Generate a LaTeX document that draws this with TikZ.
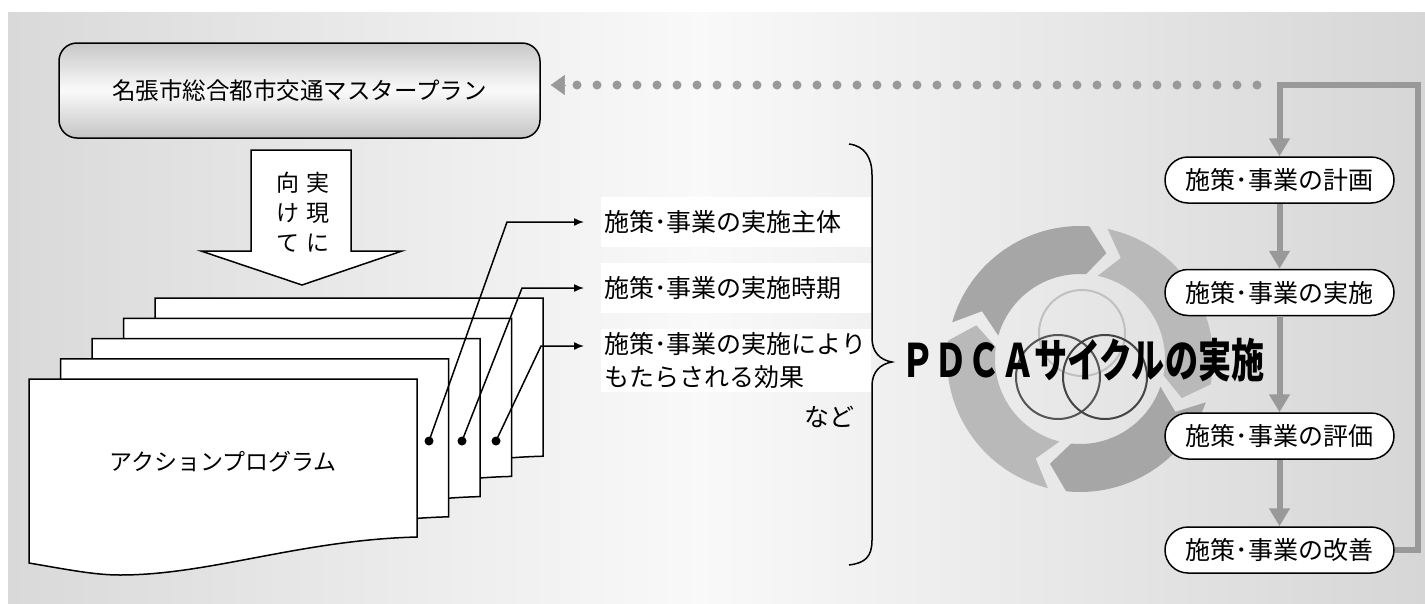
\documentclass[tikz,border=0pt]{standalone}
\usepackage{fontspec}
\newfontfamily\jp{Noto Sans CJK JP}
\usetikzlibrary{arrows.meta,calc}
\definecolor{lk}{HTML}{999999}
\definecolor{bgL}{HTML}{D9D9D9}
\definecolor{bgM}{HTML}{F9F9F9}
\definecolor{bgR}{HTML}{D6D6D6}
\definecolor{rdk}{HTML}{A6A6A6}
\definecolor{rlt}{HTML}{B9B9B9}
\definecolor{boxT}{HTML}{C8C8C8}
\definecolor{boxM}{HTML}{FAFAFA}
\definecolor{boxB}{HTML}{C4C4C4}
\definecolor{cTop}{HTML}{C0C0C0}
\definecolor{cLeft}{HTML}{555555}
\definecolor{cRight}{HTML}{444444}
\newcommand\pdcatxt{\scalebox{0.72}[1]{\jp\bfseries\fontsize{46}{50}\selectfont ＰＤＣＡサイクルの実施}}
\begin{document}
\begin{tikzpicture}[x=1pt,y=-1pt,
  every node/.style={font=\jp},
  mainbox/.style={draw, line width=1.5pt, rounded corners=18pt, minimum width=481pt, minimum height=95pt,
    font=\jp\fontsize{23.5}{28}\selectfont},
  shapeline/.style={draw, line width=1.5pt, fill=white, line join=miter},
  vtext/.style={align=center, inner sep=0pt, font=\jp\fontsize{23}{30}\selectfont},
  item/.style={anchor=west, fill=white, text width=264pt, inner xsep=3pt, align=left, minimum height=50pt,
    font=\jp\fontsize{25}{33}\selectfont},
  conn/.style={line width=1.5pt, -{Latex[length=10pt,width=8pt]}, shorten >=17pt},
  flow/.style={draw, fill=white, line width=1.5pt, rounded corners=23pt, minimum width=229pt, minimum height=46pt,
    inner sep=0pt, font=\jp\fontsize{25}{30}\selectfont},
  glink/.style={draw=lk, line width=6pt},
  gtip/.style={-{Triangle[width=20pt,length=18pt]}}
]
\useasboundingbox (0,0) rectangle (1425,603);
% background panel
\fill[white] (0,0) rectangle (1425,603);
\shade[left color=bgL, right color=bgM] (8,12) rectangle (700,603);
\shade[left color=bgM, right color=bgR] (699.5,12) rectangle (1425,603);

% master plan box (shaded fill, then outline with text)
\shade[rounded corners=18pt, top color=boxT, bottom color=boxB, middle color=boxM] (59,43) rectangle (540,138);
\node[mainbox] (mp) at (299.5,90.5) {\raisebox{-4pt}{名張市総合都市交通マスタープラン}};

% down arrow
\draw[shapeline] (251,150) -- (351,150) -- (351,251) -- (402,251) -- (302,285) -- (201,251) -- (251,251) -- cycle;
\node[vtext] (v1) at (318,212) {実\\現\\に};
\node[vtext] (v2) at (288,212) {向\\け\\て};

% stacked pages
\foreach \i in {4,3,2,1,0} {
  \begin{scope}[shift={(31.5*\i,-20.2*\i)}]
    \draw[shapeline] (29,379) -- (417,379) -- (417,537) .. controls (300,540) and (210,575) .. (120,575)
      .. controls (95,575) and (70,570) .. (29,563) -- cycle;
  \end{scope}
}
\node[font=\jp\fontsize{23}{28}\selectfont] (ap) at (223,462) {アクションプログラム};

% items
\node[item] (t1) at (601,222) {施策･事業の実施主体};
\node[item] (t2) at (601,288) {施策･事業の実施時期};
\node[item] (t3) at (601,360.5) {施策･事業の実施により\\もたらされる効果};
\node[anchor=east, font=\jp\fontsize{25}{30}\selectfont] (nd) at (858,417) {など};

% connectors from pages
\coordinate (d1) at (429,441);
\coordinate (d2) at (462,441);
\coordinate (d3) at (496,441);
\coordinate (b1) at (507,222);
\coordinate (b2) at (522,288);
\coordinate (b3) at (541,346);
\draw[conn] (d1) -- (b1) -- (b1 -| t1.west);
\draw[conn] (d2) -- (b2) -- (b2 -| t2.west);
\draw[conn] (d3) -- (b3) -- (b3 -| t3.west);
\foreach \d in {d1,d2,d3} \fill (\d) circle[radius=4.5];

% brace
\draw[line width=1.5pt] (849,144) .. controls (865,146) and (872,158) .. (872,175) -- (872,338)
  .. controls (872,352) and (880,360) .. (892,362) .. controls (880,364) and (872,372) .. (872,386)
  -- (872,540) .. controls (872,557) and (865,563) .. (849,565);

% PDCA ring
\begin{scope}[shift={(1080,359)}, y=1pt]
  \foreach \s/\e/\c in {164/86/rdk, 78/-11/rlt, -19/-96/rdk, -104/-188/rlt} {
    \fill[\c] (\s:133) arc[start angle=\s, end angle=\e, radius=133] -- ({\e-10}:109) -- (\e:85)
      arc[start angle=\e, end angle=\s, radius=85] -- ({\s-10}:109) -- cycle;
  }
  \draw[line width=2pt, cTop] (2,26) circle[radius=43];
  \draw[line width=2pt, cLeft] (-22,-18) circle[radius=42];
  \draw[line width=2pt, cRight] (25,-18) circle[radius=42];
\end{scope}
\node (pdca) at (1083,360) {\pdcatxt};

% right flow
\node[flow] (f1) at (1279.5,180) {施策･事業の計画};
\node[flow] (f2) at (1279.5,292.5) {施策･事業の実施};
\node[flow] (f3) at (1279.5,436) {施策･事業の評価};
\node[flow] (f4) at (1279.5,550) {施策･事業の改善};
\coordinate (c0) at (1279.5,85);
\coordinate (cr) at (1418,85);
\draw[glink, gtip] (f4.east) -| (cr) -- (c0) -- (f1.north);
\draw[glink, gtip] (f1.south) -- (f2.north);
\draw[glink, gtip] (f2.south) -- (f3.north);
\draw[glink, gtip] (f3.south) -- (f4.north);

% dotted feedback
\coordinate (dR) at (1257,85);
\coordinate (dL) at (566,85);
\draw[lk, line width=9pt, line cap=round, dash pattern=on 0pt off 20pt] (dR) -- (dL);
\draw[lk, line width=0.5pt, -{Triangle[width=20pt,length=14pt]}] (dL) -- ($(dL -| mp.east)+(10,0)$);
\end{tikzpicture}
\end{document}
